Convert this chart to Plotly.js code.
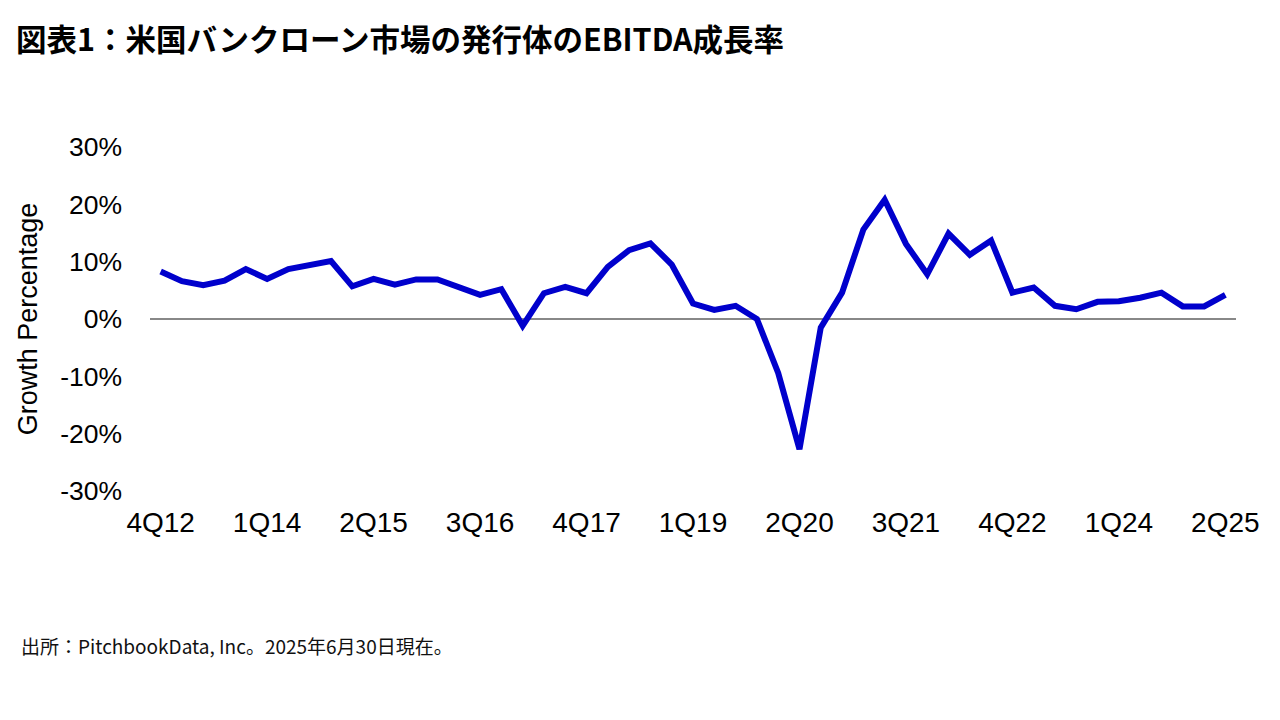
<!DOCTYPE html>
<html>
<head>
<meta charset="utf-8">
<script src="https://cdn.plot.ly/plotly-3.0.1.min.js"></script>
<style>
html,body{margin:0;padding:0;background:#fff;}
#chart{width:1280px;height:720px;}
</style>
</head>
<body>
<div id="chart"></div>
<script>
const quarters = [
  "4Q12",
  "1Q13","2Q13","3Q13","4Q13",
  "1Q14","2Q14","3Q14","4Q14",
  "1Q15","2Q15","3Q15","4Q15",
  "1Q16","2Q16","3Q16","4Q16",
  "1Q17","2Q17","3Q17","4Q17",
  "1Q18","2Q18","3Q18","4Q18",
  "1Q19","2Q19","3Q19","4Q19",
  "1Q20","2Q20","3Q20","4Q20",
  "1Q21","2Q21","3Q21","4Q21",
  "1Q22","2Q22","3Q22","4Q22",
  "1Q23","2Q23","3Q23","4Q23",
  "1Q24","2Q24","3Q24","4Q24",
  "1Q25","2Q25"
];
const growth = [
  8.3,
  6.6, 5.9, 6.7, 8.7,
  7.0, 8.7, 9.4, 10.1,
  5.7, 7.0, 6.0, 6.9,
  6.9, 5.6, 4.2, 5.2,
  -1.2, 4.5, 5.6, 4.5,
  9.1, 12.0, 13.2, 9.5,
  2.7, 1.6, 2.3, 0.0,
  -9.4, -22.7, -1.5, 4.6,
  15.6, 20.8, 13.1, 7.8,
  14.9, 11.2, 13.7, 4.6,
  5.5, 2.3, 1.7, 3.0,
  3.1, 3.7, 4.6, 2.2,
  2.2, 4.2
];
const tickLabels = ["4Q12","1Q14","2Q15","3Q16","4Q17","1Q19","2Q20","3Q21","4Q22","1Q24","2Q25"];
const yTicks = [-30, -20, -10, 0, 10, 20, 30];

const trace = {
  x: quarters,
  y: growth,
  type: 'scatter',
  mode: 'lines',
  line: {color: '#0000cc', width: 6},
  hoverinfo: 'skip'
};

const layout = {
  width: 1280,
  height: 720,
  margin: {l: 150, r: 44, t: 147, b: 229},
  paper_bgcolor: '#fff',
  plot_bgcolor: '#fff',
  showlegend: false,
  font: {family: 'Liberation Sans, Arial, sans-serif', color: '#000'},
  xaxis: {
    type: 'category',
    range: [-0.5, quarters.length - 0.5],
    tickmode: 'array',
    tickvals: tickLabels,
    ticktext: tickLabels,
    showgrid: false,
    showline: false,
    zeroline: false,
    ticks: '',
    ticklabelstandoff: 12,
    tickfont: {size: 28, family: 'Liberation Sans, Arial, sans-serif', color: '#000'},
    fixedrange: true
  },
  yaxis: {
    range: [-30, 30],
    tickmode: 'array',
    tickvals: yTicks,
    ticktext: yTicks.map(v => v + '%'),
    showgrid: false,
    showline: false,
    zeroline: true,
    zerolinecolor: '#888888',
    zerolinewidth: 2,
    ticks: '',
    ticklabelstandoff: 27,
    tickfont: {size: 26.5, family: 'Liberation Sans, Arial, sans-serif', color: '#000'},
    title: {text: 'Growth Percentage', font: {size: 27, family: 'Liberation Sans, Arial, sans-serif', color: '#000'}, standoff: 14},
    automargin: false,
    fixedrange: true
  },
  annotations: [
    {
      text: '<b>図表1：米国バンクローン市場の発行体のEBITDA成長率</b>',
      xref: 'paper', yref: 'paper', x: 0, y: 1,
      xanchor: 'left', yanchor: 'middle',
      showarrow: false,
      font: {size: 30.5, family: 'Noto Sans CJK JP, sans-serif', color: '#000'}
    },
    {
      text: '出所：PitchbookData, Inc。2025年6月30日現在。',
      xref: 'paper', yref: 'paper', x: 0, y: 0,
      xanchor: 'left', yanchor: 'middle',
      showarrow: false,
      font: {size: 19, family: 'Noto Sans CJK JP, sans-serif', color: '#111'}
    }
  ]
};

// place title/footer annotations in paper-pixel terms
const plotH = 720 - 147 - 229;
const plotW = 1280 - 150 - 44;
layout.annotations[0].x = (14 - 150) / plotW;
layout.annotations[0].y = (720 - 229 - 38) / plotH;
layout.annotations[1].x = (19 - 150) / plotW;
layout.annotations[1].y = (720 - 229 - 645) / plotH;

Plotly.newPlot('chart', [trace], layout, {displayModeBar: false, staticPlot: true});
</script>
</body>
</html>
